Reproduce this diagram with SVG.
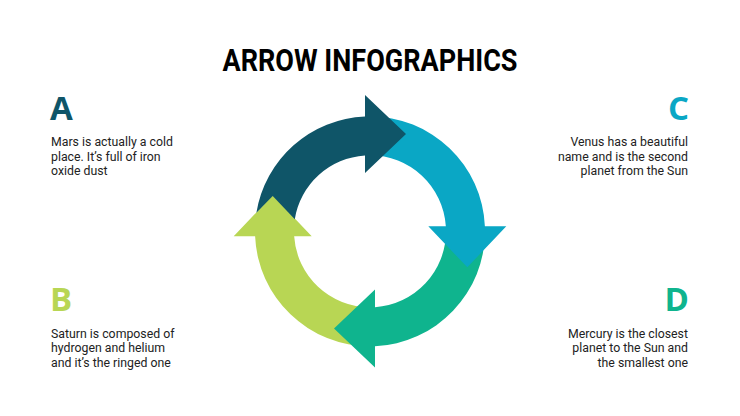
<svg xmlns="http://www.w3.org/2000/svg" width="740" height="416" viewBox="0 0 740 416">
<style>
.title{font-family:Roboto,"Open Sans","Liberation Sans",sans-serif;font-weight:700;font-size:31px;fill:#000}
.letter{font-family:"Open Sans","Noto Sans","Liberation Sans",sans-serif;font-weight:700;font-size:33px}
.body{font-family:Roboto,"Liberation Sans",sans-serif;font-size:12.3px;fill:#222}
.r{text-anchor:end}
</style>
<rect width="740" height="416" fill="#fff"/>
<text class="title" x="370" y="71" text-anchor="middle" textLength="295" lengthAdjust="spacingAndGlyphs">ARROW INFOGRAPHICS</text>

<g id="arrows" transform="translate(370 231.3)">
  <g id="arrow-lime" transform="rotate(270)">
    <path fill="#b8d654" d="M -115 0 A 115 115 0 0 1 -5 -114.89 L -5 -136.3 L 36 -97.3 L -5 -58.3 L -5 -75.84 A 76 76 0 0 0 -76 0 Z"/>
  </g>
  <g id="arrow-green" transform="rotate(180)">
    <path fill="#0fb48e" d="M -115 0 A 115 115 0 0 1 -5 -114.89 L -5 -136.3 L 36 -97.3 L -5 -58.3 L -5 -75.84 A 76 76 0 0 0 -76 0 Z"/>
  </g>
  <g id="arrow-cyan" transform="rotate(90)">
    <path fill="#0aa7c5" d="M -115 0 A 115 115 0 0 1 -5 -114.89 L -5 -136.3 L 36 -97.3 L -5 -58.3 L -5 -75.84 A 76 76 0 0 0 -76 0 Z"/>
  </g>
  <g id="arrow-dark">
    <path fill="#0f5568" d="M -113.6 -18.6 A 115 115 0 0 1 -5 -114.89 L -5 -136.3 L 36 -97.3 L -5 -58.3 L -5 -75.84 A 76 76 0 0 0 -75.2 -12.1 L -97.3 -35.2 Z"/>
  </g>
</g>

<g id="node-a">
  <text class="letter" x="50" y="120" fill="#0f5568">A</text>
  <text class="body" x="51" y="146">Mars is actually a cold</text>
  <text class="body" x="51" y="160.6">place. It’s full of iron</text>
  <text class="body" x="51" y="175.2">oxide dust</text>
</g>
<g id="node-b">
  <text class="letter" x="50" y="311" fill="#b8d654">B</text>
  <text class="body" x="51" y="337.5">Saturn is composed of</text>
  <text class="body" x="51" y="352.1">hydrogen and helium</text>
  <text class="body" x="51" y="366.7">and it’s the ringed one</text>
</g>
<g id="node-c">
  <text class="letter r" x="689" y="120" fill="#0aa7c5">C</text>
  <text class="body r" x="688" y="146">Venus has a beautiful</text>
  <text class="body r" x="688" y="160.6">name and is the second</text>
  <text class="body r" x="688" y="175.2">planet from the Sun</text>
</g>
<g id="node-d">
  <text class="letter r" x="689" y="311" fill="#0fb48e">D</text>
  <text class="body r" x="688" y="337.5">Mercury is the closest</text>
  <text class="body r" x="688" y="352.1">planet to the Sun and</text>
  <text class="body r" x="688" y="366.7">the smallest one</text>
</g>
</svg>
